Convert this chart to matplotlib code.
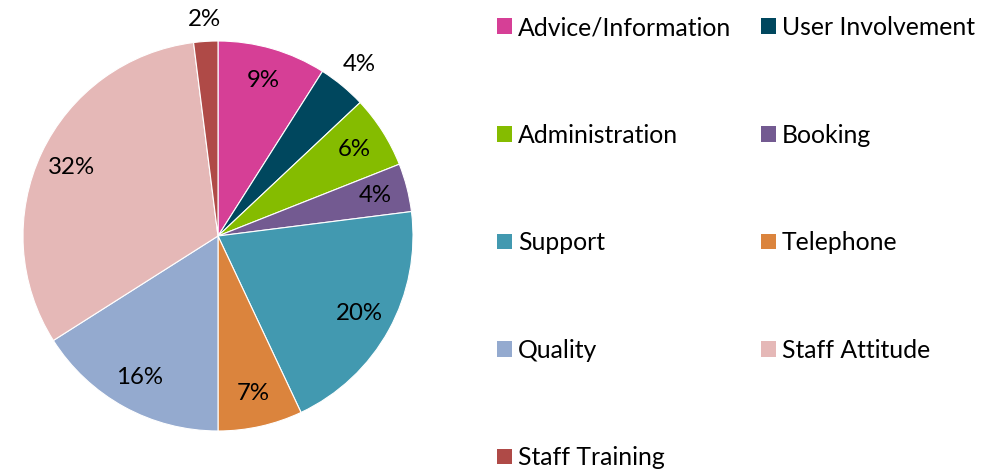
import numpy as np
import matplotlib
matplotlib.use("Agg")
import matplotlib.pyplot as plt
from matplotlib.patches import Patch

categories = ["Advice/Information", "User Involvement", "Administration", "Booking",
              "Support", "Telephone", "Quality", "Staff Attitude", "Staff Training"]
shares = [9, 4, 6, 4, 20, 7, 16, 32, 2]
colors = ["#D63F96", "#00475E", "#85BC00", "#735A91", "#4299B0",
          "#DB843D", "#94AACF", "#E5B8B7", "#AF4A47"]
# labels drawn outside the pie (slices too thin to hold them)
outside = {"User Involvement": 1.14, "Staff Training": 1.11}

plt.rcParams["font.family"] = ["Lato", "DejaVu Sans"]

W, H = 995, 472
fig = plt.figure(figsize=(W / 100, H / 100), dpi=100)
fig.patch.set_facecolor("white")

cx, cy, R = 218, 472 - 236, 195
ax = fig.add_axes([(cx - R) / W, (cy - R) / H, 2 * R / W, 2 * R / H])
wedges, _ = ax.pie(shares, colors=colors, startangle=90, counterclock=False,
                   wedgeprops=dict(edgecolor="white", linewidth=0.8))
ax.set_xlim(-1, 1)
ax.set_ylim(-1, 1)
ax.set_aspect("equal")

for w, name, val in zip(wedges, categories, shares):
    mid = np.deg2rad((w.theta1 + w.theta2) / 2)
    r = outside.get(name, 0.83)
    ax.text(r * np.cos(mid), r * np.sin(mid), f"{val}%", ha="center", va="center",
            fontsize=17.3, color="black")

# row-major legend order across two columns
order = [0, 2, 4, 6, 8, 1, 3, 5, 7]
handles = [Patch(facecolor=colors[i], edgecolor="none") for i in order]
labels = [categories[i] for i in order]
fig.legend(handles, labels, ncol=2, loc="upper left",
           bbox_to_anchor=(497 / W, 1 - 16 / H), frameon=False, fontsize=17.8,
           handlelength=0.6, handleheight=0.6, handletextpad=0.25,
           labelspacing=3.42, columnspacing=1.2, borderpad=0, borderaxespad=0)

fig.savefig("out.png", dpi=100)
